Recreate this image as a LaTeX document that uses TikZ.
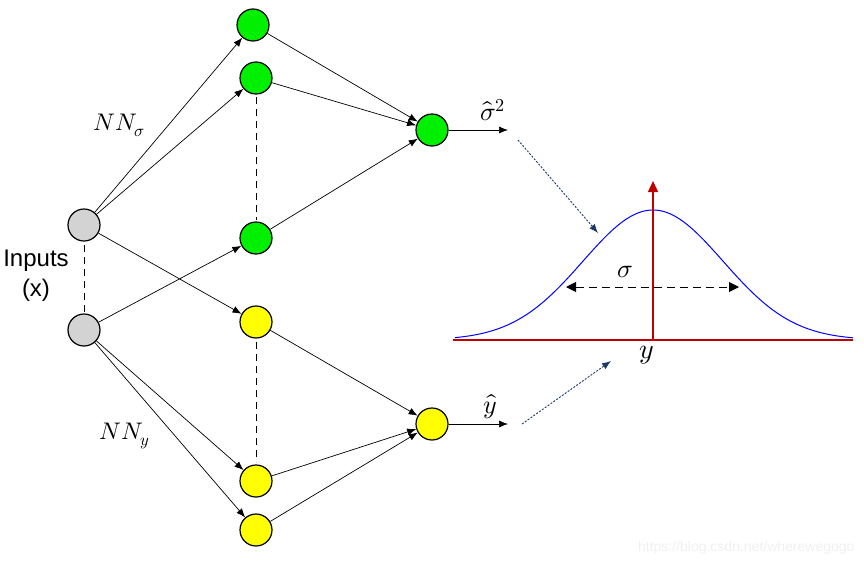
\documentclass[tikz,border=0pt]{standalone}
\usepackage{fontspec}
\usepackage{unicode-math}
\setmainfont{Liberation Sans}
\usetikzlibrary{arrows.meta}
\definecolor{ngreen}{RGB}{0,240,0}
\definecolor{nyellow}{RGB}{255,255,0}
\definecolor{ngray}{RGB}{211,211,211}
\definecolor{dred}{RGB}{192,0,0}
\definecolor{navy}{RGB}{31,56,100}
\begin{document}
\begin{tikzpicture}[x=1pt,y=-1pt,
  neuron/.style={circle,draw=black,line width=1.2pt,minimum size=32pt,inner sep=0pt},
  inp/.style={neuron,fill=ngray},
  gn/.style={neuron,fill=ngreen},
  yn/.style={neuron,fill=nyellow},
  conn/.style={line width=0.7pt,-{Latex[length=9pt,width=7pt]}},
  vdash/.style={line width=1pt,dash pattern=on 7pt off 5pt},
  dotarr/.style={navy,line width=0.9pt,dash pattern=on 2pt off 1.5pt,-{Latex[length=9pt,width=7pt]}},
  lbl/.style={font=\fontsize{26}{28}\selectfont,inner sep=0pt},
  nnlbl/.style={font=\fontsize{24}{26}\selectfont,inner sep=0pt},
  redline/.style={dred,line width=1.5pt}
]
\useasboundingbox (0,0) rectangle (864,565);
% nodes
\node[inp] (i1) at (84,225) {};
\node[inp] (i2) at (84,330) {};
\node[gn] (g1) at (253,25) {};
\node[gn] (g2) at (256,78) {};
\node[gn] (g3) at (256,238) {};
\node[gn] (go) at (432,130) {};
\node[yn] (y1) at (256,322) {};
\node[yn] (y2) at (256,481) {};
\node[yn] (y3) at (256,530) {};
\node[yn] (yo) at (432,424) {};
% dashed verticals
\coordinate (d1a) at (84,245); \coordinate (d1b) at (84,312);
\coordinate (d2a) at (256,97); \coordinate (d2b) at (256,220);
\coordinate (d3a) at (256,342); \coordinate (d3b) at (256,462);
\draw[vdash] (d1a) -- (d1b);
\draw[vdash] (d2a) -- (d2b);
\draw[vdash] (d3a) -- (d3b);
% input connections
\draw[conn] (i1) -- (g1);
\draw[conn] (i1) -- (g2);
\draw[conn] (i1) -- (y1);
\draw[conn] (i2) -- (g3);
\draw[conn] (i2) -- (y2);
\draw[conn] (i2) -- (y3);
% hidden to output
\draw[conn] (g1) -- (go);
\draw[conn] (g2) -- (go);
\draw[conn] (g3) -- (go);
\draw[conn] (y1) -- (yo);
\draw[conn] (y2) -- (yo);
\draw[conn] (y3) -- (yo);
% outputs
\coordinate (so) at (508,130);
\coordinate (yoe) at (508,424);
\draw[conn] (go) -- (so);
\draw[conn] (yo) -- (yoe);
\node[lbl] (slbl) at (493,110) {$\hat{\sigma}^2$};
\node[lbl] (ylbl) at (490,407) {$\hat{y}$};
% labels
\node[nnlbl] (nns) at (119,125) {$NN_\sigma$};
\node[nnlbl] (nny) at (125,436) {$NN_y$};
\node[font=\fontsize{24}{30}\selectfont,align=center] (inlbl) at (36,276) {Inputs\\(x)};
% gaussian
\coordinate (bl) at (453,340); \coordinate (br) at (853,340);
\coordinate (vb) at (653,340); \coordinate (vt) at (653,181);
\draw[blue,line width=1pt] plot[domain=455:853,samples=120] (\x,{340-130*exp(-0.5*((\x-653)/70)^2)});
\draw[redline] (bl) -- (br);
\draw[dred,line width=1.2pt,-{Triangle[length=11pt,width=10pt]}] (vb) -- (vt);
\coordinate (sl) at (566,287); \coordinate (sr) at (739,287);
\draw[line width=1pt,dash pattern=on 8pt off 5pt,{Triangle[length=10pt,width=10pt]}-{Triangle[length=10pt,width=10pt]}] (sl) -- (sr);
\node[lbl] (sig) at (625,272) {$\sigma$};
\node[font=\fontsize{28}{30}\selectfont,inner sep=0pt] (ybig) at (647,355) {$y$};
% dotted arrows
\coordinate (da1) at (518,140); \coordinate (da2) at (598,233);
\coordinate (db1) at (522,424); \coordinate (db2) at (611,361);
\draw[dotarr] (da1) -- (da2);
\draw[dotarr] (db1) -- (db2);
% watermark
\node[text=black!6,font=\fontsize{14}{16}\selectfont,anchor=east] (wm) at (858,548) {https://blog.csdn.net/wherewegogo};
\end{tikzpicture}
\end{document}
